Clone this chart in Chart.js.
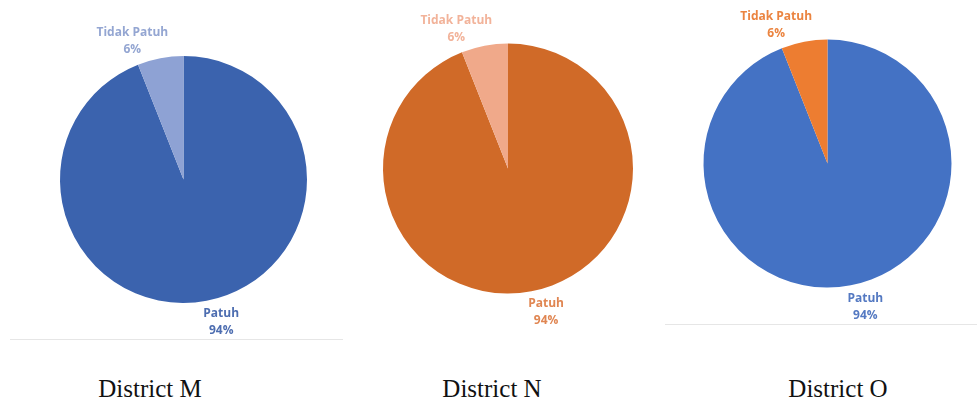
<!DOCTYPE html>
<html>
<head>
<meta charset="utf-8">
<script src="https://cdn.jsdelivr.net/npm/chart.js@4"></script>
<style>
  html, body { margin: 0; padding: 0; background: #ffffff; }
  body { width: 977px; height: 405px; position: relative; overflow: hidden; }
  canvas { position: absolute; }
  .title { position: absolute; font-family: 'Liberation Serif', 'Times New Roman', serif; font-size: 25px; color: #111; white-space: nowrap; transform: translateX(-50%); line-height: 1; }
  .sep { position: absolute; height: 1px; background: #e6e6e6; }
</style>
</head>
<body>
<canvas id="cM" width="340" height="340" style="left:0px;top:0px"></canvas>
<canvas id="cN" width="320" height="340" style="left:340px;top:0px"></canvas>
<canvas id="cO" width="317" height="340" style="left:660px;top:0px"></canvas>
<div class="sep" style="left:10px;top:339px;width:333px"></div>
<div class="sep" style="left:665px;top:324px;width:312px"></div>
<div class="title" id="tM" style="left:150px;top:376px"></div>
<div class="title" id="tN" style="left:492px;top:376px"></div>
<div class="title" id="tO" style="left:838px;top:376px"></div>
<script>
// ---- data ----
const districts = ['District M', 'District N', 'District O'];
const categories = ['Patuh', 'Tidak Patuh'];
const patuhValues = [94, 94, 94];
const tidakPatuhValues = [6, 6, 6];

// ---- styles ----
const sliceColors = [
  ['#3b63ae', '#8ea2d4'],
  ['#d06a28', '#f0a98a'],
  ['#4472c4', '#ed7d31']
];
const labelColors = [
  ['#4d6db0', '#94a6d2'],
  ['#e08652', '#f2b39a'],
  ['#5479c2', '#eb8440']
];
const paddings = [
  {left: 60, right: 33, top: 56, bottom: 37},
  {left: 43, right: 27, top: 43.5, bottom: 46.5},
  {left: 43.5, right: 25.5, top: 39.5, bottom: 52.5}
];
const canvasIds = ['cM', 'cN', 'cO'];
const titleIds = ['tM', 'tN', 'tO'];

const outsideLabels = {
  id: 'outsideLabels',
  afterDatasetsDraw(chart, args, opts) {
    const ctx = chart.ctx;
    const meta = chart.getDatasetMeta(0);
    const data = chart.data.datasets[0].data;
    const total = data.reduce((a, b) => a + b, 0);
    ctx.save();
    ctx.font = "bold 12px 'Open Sans', sans-serif";
    ctx.textAlign = 'center';
    ctx.textBaseline = 'middle';
    meta.data.forEach((arc, i) => {
      const p = arc.getProps(['x', 'y', 'startAngle', 'endAngle', 'outerRadius'], true);
      const mid = (p.startAngle + p.endAngle) / 2 + opts.angleShift[i] * Math.PI / 180;
      const dist = p.outerRadius + opts.distance;
      const cx = p.x + Math.cos(mid) * dist;
      const cy = p.y + Math.sin(mid) * dist;
      ctx.fillStyle = opts.colors[i];
      ctx.fillText(chart.data.labels[i], cx, cy - 8.5);
      ctx.fillText(Math.round(data[i] / total * 100) + '%', cx, cy + 8.5);
    });
    ctx.restore();
  }
};

districts.forEach((name, k) => {
  document.getElementById(titleIds[k]).textContent = name;
  new Chart(document.getElementById(canvasIds[k]), {
    type: 'pie',
    data: {
      labels: categories,
      datasets: [{
        data: [patuhValues[k], tidakPatuhValues[k]],
        backgroundColor: sliceColors[k],
        borderWidth: 0,
        hoverOffset: 0
      }]
    },
    options: {
      responsive: false,
      animation: false,
      events: [],
      layout: { padding: paddings[k] },
      plugins: {
        legend: { display: false },
        tooltip: { enabled: false },
        outsideLabels: { colors: labelColors[k], angleShift: [-4, -9.5], distance: 24 }
      }
    },
    plugins: [outsideLabels]
  });
});
</script>
</body>
</html>
